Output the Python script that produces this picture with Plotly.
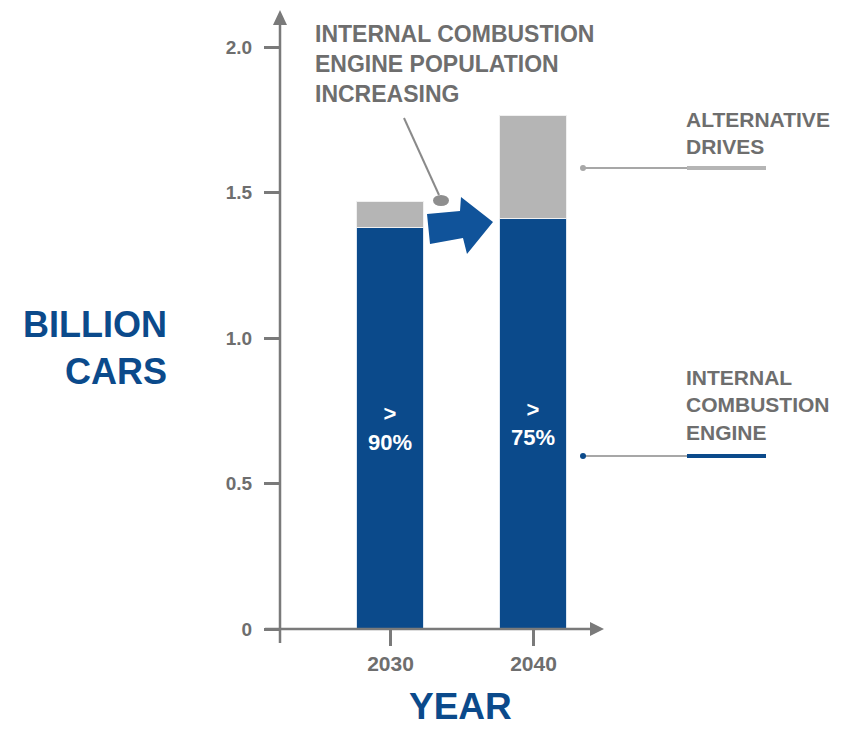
import plotly.graph_objects as go

# ---- data -------------------------------------------------------------
years = ["2030", "2040"]
ice_billion = [1.378, 1.409]          # internal combustion engine cars
alt_billion = [0.090, 0.355]          # alternative drives
ice_share_labels = ["><br>90%", "><br>75%"]

y_tickvals = [0, 0.5, 1.0, 1.5, 2.0]
y_ticktext = ["0", "0.5", "1.0", "1.5", "2.0"]

# ---- styling ----------------------------------------------------------
BLUE = "#0b4a8b"
ARROW_BLUE = "#10539a"
BAR_GRAY = "#b5b5b5"
TEXT_GRAY = "#6e6e6e"
AXIS_GRAY = "#7a7a7a"
FONT = "Liberation Sans, Arial, Helvetica, sans-serif"

W, H = 859, 729
ML, MR, MT, MB = 280, 256, 47, 100
PW, PH = W - ML - MR, H - MT - MB


def px(x, y):
    """Pixel position -> paper coordinates."""
    return (x - ML) / PW, (H - MB - y) / PH


def path(points):
    pts = [px(x, y) for x, y in points]
    return "M " + " L ".join(f"{a:.5f},{b:.5f}" for a, b in pts) + " Z"


fig = go.Figure()

fig.add_trace(go.Bar(
    x=years, y=ice_billion, width=0.47,
    marker=dict(color=BLUE, line=dict(color="#dde7f2", width=1)),
    text=ice_share_labels, textposition="inside", insidetextanchor="middle",
    textfont=dict(family=FONT, size=22, color="white", weight="bold"),
    hoverinfo="skip", name="Internal combustion engine",
))
fig.add_trace(go.Bar(
    x=years, y=alt_billion, width=0.47,
    marker=dict(color=BAR_GRAY, line=dict(color="#f0f0f0", width=1)),
    hoverinfo="skip", name="Alternative drives",
))

shapes = []
# y axis line with arrow head
x0p, _ = px(280, 0)
shapes.append(dict(type="line", xref="paper", yref="paper",
                   x0=x0p, x1=x0p, y0=px(0, 643)[1], y1=px(0, 22)[1],
                   line=dict(color=AXIS_GRAY, width=2.5)))
shapes.append(dict(type="path", xref="paper", yref="paper",
                   path=path([(273, 25), (287, 25), (280, 10)]),
                   fillcolor=AXIS_GRAY, line=dict(width=0)))
# x axis line with arrow head
_, yb = px(0, 629)
shapes.append(dict(type="line", xref="paper", yref="paper",
                   x0=px(265, 0)[0], x1=px(592, 0)[0], y0=yb, y1=yb,
                   line=dict(color=AXIS_GRAY, width=2.5)))
shapes.append(dict(type="path", xref="paper", yref="paper",
                   path=path([(590, 622), (590, 636), (604, 629)]),
                   fillcolor=AXIS_GRAY, line=dict(width=0)))

# blue growth arrow between the bars
shapes.append(dict(type="path", xref="paper", yref="paper",
                   path=path([(427, 214), (460, 211), (461, 197), (493, 222),
                              (467, 254), (463, 238), (430, 244)]),
                   fillcolor=ARROW_BLUE, line=dict(width=0)))

# pointer from the headline to the arrow
a, b = px(404, 118)
c, d = px(439, 195)
shapes.append(dict(type="line", xref="paper", yref="paper",
                   x0=a, y0=b, x1=c, y1=d, line=dict(color="#8a8a8a", width=2)))
e0, f0 = px(433, 195)
e1, f1 = px(449, 206)
shapes.append(dict(type="circle", xref="paper", yref="paper",
                   x0=e0, y0=f0, x1=e1, y1=f1,
                   fillcolor="#8e8e8e", line=dict(width=0)))

# series leaders on the right
for y, thick_col, dot_col in [(168, BAR_GRAY, "#a8a8a8"), (456, BLUE, BLUE)]:
    a, b = px(583, y)
    c, _ = px(687, y)
    e, _ = px(766, y)
    shapes.append(dict(type="line", xref="paper", yref="paper",
                       x0=a, y0=b, x1=c, y1=b, line=dict(color="#8a8a8a", width=1.5)))
    shapes.append(dict(type="line", xref="paper", yref="paper",
                       x0=c, y0=b, x1=e, y1=b, line=dict(color=thick_col, width=4)))
    r0 = px(580, y - 3)
    r1 = px(586, y + 3)
    shapes.append(dict(type="circle", xref="paper", yref="paper",
                       x0=r0[0], y0=r1[1], x1=r1[0], y1=r0[1],
                       fillcolor=dot_col, line=dict(width=0)))

annotations = []


def note(text, x, y, size, color, xanchor="left", align="left", yanchor="middle"):
    xp, yp = px(x, y)
    annotations.append(dict(text=text, x=xp, y=yp, xref="paper", yref="paper",
                            showarrow=False, xanchor=xanchor, yanchor=yanchor,
                            align=align,
                            font=dict(family=FONT, size=size, color=color,
                                      weight="bold")))


note("INTERNAL COMBUSTION<br>ENGINE POPULATION<br>INCREASING", 313, 64, 23, TEXT_GRAY)
note("ALTERNATIVE<br>DRIVES", 684, 133, 21, TEXT_GRAY)
note("INTERNAL<br>COMBUSTION<br>ENGINE", 684, 405, 21, TEXT_GRAY)
note("BILLION<br>CARS", 169, 348, 36, BLUE, xanchor="right", align="right")
note("YEAR", 460, 706, 37, BLUE, xanchor="center", align="center")

fig.update_layout(
    width=W, height=H,
    margin=dict(l=ML, r=MR, t=MT, b=MB, pad=0),
    barmode="stack", bargap=0,
    plot_bgcolor="white", paper_bgcolor="white",
    showlegend=False,
    shapes=shapes, annotations=annotations,
    font=dict(family=FONT, color=TEXT_GRAY),
    uniformtext=dict(minsize=22, mode="show"),
    xaxis=dict(type="category", range=[-0.7727, 1.4860], showline=False,
               showgrid=False, zeroline=False, ticks="outside", ticklen=16,
               tickwidth=2.5, tickcolor=AXIS_GRAY,
               tickfont=dict(family=FONT, size=21, color=TEXT_GRAY, weight="bold"),
               fixedrange=True),
    yaxis=dict(range=[0, 2.0], tickvals=y_tickvals, ticktext=y_ticktext,
               showline=False, showgrid=False, zeroline=False,
               ticks="outside", ticklen=15, tickwidth=2.5, tickcolor=AXIS_GRAY,
               ticklabelstandoff=8,
               tickfont=dict(family=FONT, size=19, color=TEXT_GRAY, weight="bold"),
               fixedrange=True),
)

fig.write_html("out.html")
